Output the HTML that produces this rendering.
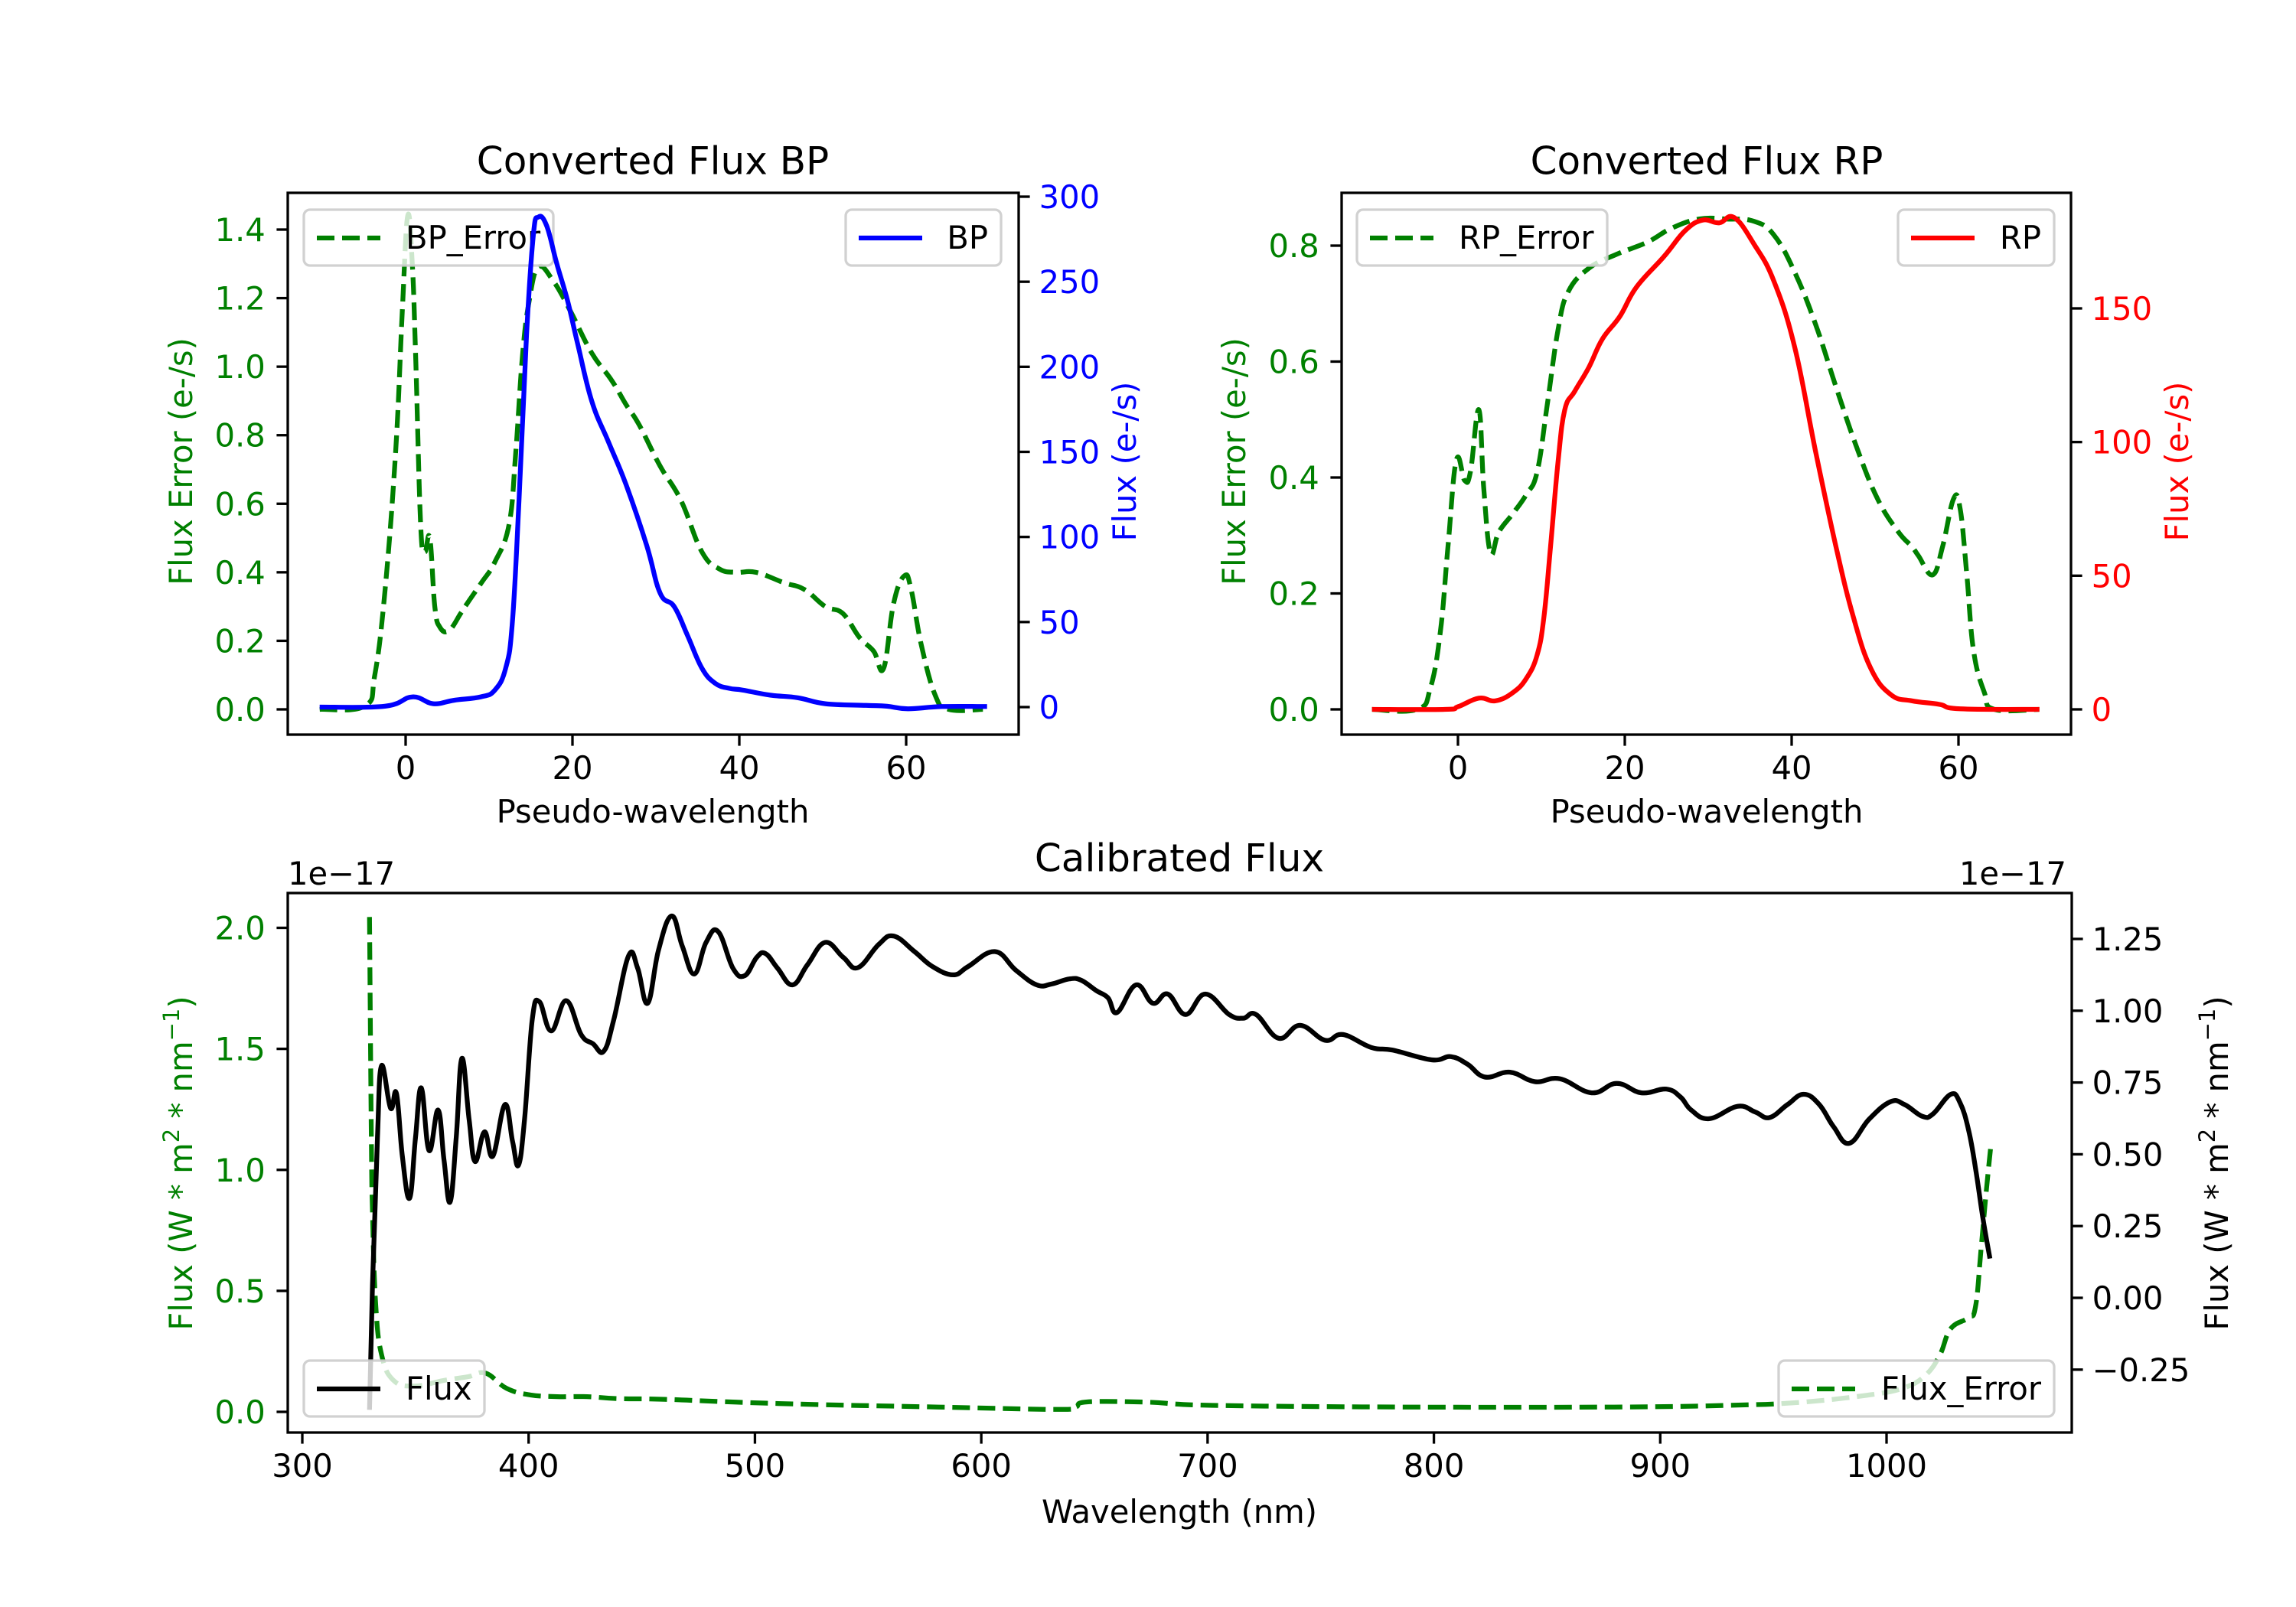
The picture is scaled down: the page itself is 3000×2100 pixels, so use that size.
<!DOCTYPE html>
<html><head><meta charset="utf-8"><style>
html,body{margin:0;padding:0;background:#fff}
svg{display:block}
text{font-family:"DejaVu Sans","Liberation Sans",sans-serif}
</style></head><body>
<svg id="fig" xmlns="http://www.w3.org/2000/svg" width="3000" height="2100" viewBox="0 0 3000 2100">
<rect width="3000" height="2100" fill="#fff"/>
</svg>
<script>
// ---- BP panel data ----
const bpX=[-10.3,-2.5,0.8,3.3,5.8,9,10.7,12,12.8,13.6,14.5,15.3,15.9,16.9,18.1,19.4,20.6,22.3,24.3,26.4,28.9,30.5,32.2,33.8,35.5,37.1,38.8,40.4,43.7,47,50.3,55.2,57.7,60.2,64.3,69.7];
const bpFlux=[0,0.5,6,2,4,6,10,23,50,122,219,277,288,283,261,239,214,180,156,131,95,67,59,42,23,14,11,10,7,5.5,2,1,0.5,-1,0.3,0.3];
const bpErrX=[-10.3,-4.9,-3.7,-2.5,-1.2,-0.4,0.25,0.8,1.2,1.8,2.3,2.9,3.5,4.1,5.2,6.6,7.4,9.1,10.7,12.4,13.2,14,14.8,15.9,17.7,19.8,22.3,24.7,26.4,28,30.5,33,35.5,37.6,39.6,42,45.3,47.8,50.3,52.4,54.4,56.1,57.3,58.5,59.8,60.6,61.8,63.5,65.1,69.2];
const bpErr=[0,0.01,0.1,0.34,0.75,1.16,1.44,1.3,1.03,0.54,0.46,0.5,0.3,0.24,0.23,0.28,0.31,0.37,0.43,0.54,0.75,1.03,1.19,1.29,1.25,1.16,1.04,0.96,0.89,0.83,0.71,0.61,0.46,0.41,0.4,0.4,0.37,0.35,0.3,0.28,0.21,0.17,0.12,0.31,0.39,0.35,0.19,0.04,0,0];
// ---- RP panel data ----
const rpX=[-10.3,-1.6,0,2.5,4.5,6.6,8.2,9.5,10.3,11.1,12,12.8,14,15.7,17.3,19.4,21.4,24.7,27.2,29.3,31.3,33.1,35.5,37.9,40.4,42.9,45.3,47.4,49.5,51.9,54.4,57.7,60.2,69.7];
const rpFlux=[0,0,1,4.2,3.2,6.3,11.6,20.4,34.5,61,92.7,112,119,128,138.5,147,158,169.4,179,183,182,184,174,160,135,96,61,34.5,15.2,5.5,3.2,1.9,0.2,0];
const rpErrX=[-10.3,-4.9,-3.3,-2.1,-1.2,-0.2,0.8,1.5,2.5,3.1,3.9,4.9,6.6,8.2,9.5,10.7,12,13.2,15.7,19,22.7,25.6,28.9,32.2,35.5,37.9,40.4,42.9,45.3,47.8,50.3,52.8,54.4,55.2,56.9,58.1,59.4,60.2,61,61.8,63.1,64.3,69.7];
const rpErr=[0,0,0.037,0.135,0.28,0.43,0.395,0.41,0.517,0.38,0.27,0.306,0.338,0.371,0.41,0.525,0.655,0.72,0.761,0.785,0.806,0.83,0.846,0.846,0.842,0.818,0.753,0.663,0.557,0.452,0.363,0.306,0.281,0.265,0.232,0.281,0.363,0.346,0.232,0.102,0.029,0,0];
// ---- Calibrated panel data (flux in 1e-17 units) ----
const calX=[329.7,331,333.2,335,339,341.6,344.2,347.4,350,352.6,356,360,362.6,365.3,368,370.5,373.7,376.3,380.5,384.2,389.5,392.9,395.5,398.2,401.6,404.7,410,416.6,423.2,428.4,433.2,437.6,444.2,448.2,452.6,457.4,463.2,467.9,473.2,478.4,483.7,490.3,495.5,500.8,504.7,510,516.6,523.2,531,539,545.5,554.7,561.3,570.5,578.4,587.6,594.2,606,615.3,624.5,631,639,644.2,650.8,656,660,668.4,675.8,682.4,690.3,699,709.5,715.7,721.4,731.4,740.9,751.9,759.8,772.3,781.7,799,807.5,814.8,822.6,833.6,844.6,855.6,869.7,880.8,891.7,902.7,909,913.7,921.6,934.2,942,948.3,956.2,963.4,970.3,976.6,983.5,992.3,1001.7,1008,1015.9,1020.6,1028.4,1032.5,1036.3,1039.5,1042.6,1045.7];
const calFlux=[-0.39,0.045,0.558,0.808,0.661,0.712,0.494,0.347,0.558,0.731,0.513,0.654,0.481,0.334,0.558,0.834,0.622,0.475,0.578,0.494,0.673,0.545,0.462,0.622,0.968,1.032,0.93,1.035,0.917,0.885,0.859,0.968,1.192,1.148,1.026,1.212,1.33,1.225,1.128,1.238,1.276,1.148,1.122,1.186,1.199,1.148,1.09,1.16,1.238,1.186,1.15,1.231,1.26,1.206,1.154,1.125,1.154,1.206,1.141,1.09,1.093,1.111,1.106,1.07,1.045,0.994,1.09,1.026,1.058,0.987,1.058,0.987,0.974,0.987,0.904,0.949,0.897,0.917,0.872,0.863,0.829,0.84,0.814,0.769,0.786,0.753,0.763,0.714,0.747,0.714,0.727,0.699,0.654,0.624,0.667,0.647,0.628,0.673,0.709,0.673,0.596,0.538,0.622,0.683,0.673,0.632,0.641,0.709,0.679,0.583,0.442,0.276,0.137];
const calErrX=[329.7,330.5,331,332.4,335,340.3,349.5,362.6,373.2,381,390.3,400.8,412.6,425.8,439,460,491.6,528.4,581,633.7,641.6,646.8,673.2,702,785,879.7,929.4,961.1,992.3,1007.9,1017.4,1023.6,1028.3,1036.1,1039.3,1041.8,1044,1046.2];
const calErr=[2.045,1.133,0.83,0.449,0.237,0.13,0.107,0.13,0.145,0.16,0.097,0.07,0.063,0.063,0.055,0.052,0.04,0.03,0.02,0.01,0.02,0.041,0.04,0.027,0.02,0.02,0.027,0.039,0.07,0.1,0.153,0.236,0.343,0.389,0.434,0.677,0.905,1.11];
// tick labels
const bpLeftTicks=[0,0.2,0.4,0.6,0.8,1.0,1.2,1.4];
const bpRightTicks=[0,50,100,150,200,250,300];
const pwTicks=[0,20,40,60];
const rpLeftTicks=[0,0.2,0.4,0.6,0.8];
const rpRightTicks=[0,50,100,150];
const calXTicks=[300,400,500,600,700,800,900,1000];
const calLeftTicks=[0,0.5,1.0,1.5,2.0];
const calRightTicks=[-0.25,0,0.25,0.5,0.75,1.0,1.25];

const NS="http://www.w3.org/2000/svg";
const svg=document.getElementById('fig');
function mk(tag,attrs,parent){const e=document.createElementNS(NS,tag);for(const k in attrs)e.setAttribute(k,attrs[k]);(parent||svg).appendChild(e);return e;}
function lin(d0,d1,r0,r1){return v=>r0+(v-d0)*(r1-r0)/(d1-d0);}
const FS=41.7, TICK=14.6, SW=3.3, LW=6.25;
function fmt(v,dec){let s=v.toFixed(dec);return s.replace('-','\u2212');}

function makeAxes(name,box){
  const g=mk('g',{});
  
  
  const cp=mk('clipPath',{id:'clip-'+name},g);
  mk('rect',{x:box.l,y:box.t,width:box.r-box.l,height:box.b-box.t},cp);
  return g;
}
function smoothPath(P){
  let d='M'+P[0][0].toFixed(1)+','+P[0][1].toFixed(1);
  const k=0.2;
  for(let i=0;i<P.length-1;i++){
    const p0=P[i-1]||P[i],p1=P[i],p2=P[i+1],p3=P[i+2]||P[i+1];
    const c1=[p1[0]+(p2[0]-p0[0])*k,p1[1]+(p2[1]-p0[1])*k];
    const c2=[p2[0]-(p3[0]-p1[0])*k,p2[1]-(p3[1]-p1[1])*k];
    d+=' C'+c1[0].toFixed(1)+','+c1[1].toFixed(1)+' '+c2[0].toFixed(1)+','+c2[1].toFixed(1)+' '+p2[0].toFixed(1)+','+p2[1].toFixed(1);
  }
  return d;
}
function drawLine(g,xs,ys,sx,sy,color,dashed,clipId,name){
  const P=xs.map((x,i)=>[sx(x),sy(ys[i])]);
  const p=mk('path',{d:smoothPath(P),fill:'none',stroke:color,'stroke-width':LW,'stroke-linejoin':'round','clip-path':'url(#'+clipId+')'},g);
  if(dashed)p.setAttribute('stroke-dasharray','23 10');
  
  
}
function frame(g,box){
  const r=mk('rect',{x:box.l,y:box.t,width:box.r-box.l,height:box.b-box.t,fill:'none',stroke:'#000','stroke-width':SW},g);
  
  
}
function xTicks(g,box,ticks,sx,dec){
  ticks.forEach(t=>{const x=sx(t);
    mk('line',{x1:x,x2:x,y1:box.b,y2:box.b+TICK,stroke:'#000','stroke-width':SW},g);
    const tx=mk('text',{x:x,y:box.b+TICK+14.6+29,'font-size':FS,'text-anchor':'middle',fill:'#000'},g);
    tx.textContent=fmt(t,dec);
    
    
  });
}
function yTicks(g,box,ticks,sy,dec,side,color){
  ticks.forEach(t=>{const y=sy(t);
    const x0=side==='l'?box.l:box.r, x1=side==='l'?box.l-TICK:box.r+TICK;
    mk('line',{x1:x0,x2:x1,y1:y,y2:y,stroke:'#000','stroke-width':SW},g);
    const tx=mk('text',{x:side==='l'?x1-14.6:x1+12,y:y+15,'font-size':FS,'text-anchor':side==='l'?'end':'start',fill:color},g);
    tx.textContent=fmt(t,dec);
    
    
  });
}
function label(g,txt,x,y,rot,color,size,name){
  const t=mk('text',{x:x,y:y,'font-size':size||FS,'text-anchor':'middle',fill:color||'#000','dominant-baseline':'middle'},g);
  if(rot)t.setAttribute('transform','rotate(-90 '+x+' '+y+')');
  t.textContent=txt;
  
  
  return t;
}
function legend(g,x,y,w,txt,color,dashed,name,textRight){
  const lg=mk('g',{},g);
  
  
  mk('rect',{x:x,y:y,width:w,height:73,rx:8,fill:'#fff','fill-opacity':0.8,stroke:'#ccc','stroke-opacity':0.9,'stroke-width':3.3},lg);
  const ln=mk('line',{x1:x+17,x2:x+100,y1:y+37,y2:y+37,stroke:color,'stroke-width':LW},lg);
  if(dashed)ln.setAttribute('stroke-dasharray','23 10');
  const t=mk('text',{x:textRight?x+w-17:x+133,y:y+51,'font-size':FS,fill:'#000','text-anchor':textRight?'end':'start'},lg);
  t.textContent=txt;
}

// ---------- BP ----------
(function(){
  const box={l:376,r:1331,t:252,b:960};
  const g=makeAxes('bp-panel',box);
  const sx=lin(0,60,530,1184), yl=lin(0,1.4,927,300), yr=lin(0,300,924,257);
  drawLine(g,bpErrX,bpErr,sx,yl,'#008000',true,'clip-bp-panel','bp-error-line');
  legend(g,397,274,326,'BP_Error','#008000',true,'bp-error-legend');
  drawLine(g,bpX,bpFlux,sx,yr,'#0000ff',false,'clip-bp-panel','bp-flux-line');
  legend(g,1105,274,203,'BP','#0000ff',false,'bp-legend',true);
  frame(g,box);
  xTicks(g,box,pwTicks,sx,0);
  yTicks(g,box,bpLeftTicks,yl,1,'l','#008000');
  yTicks(g,box,bpRightTicks,yr,0,'r','#0000ff');
  label(g,'Converted Flux BP',853,214,false,'#000',50,'bp-title');
  label(g,'Pseudo-wavelength',853,1064,false,'#000',FS,'bp-x-axis-title');
  label(g,'Flux Error (e-/s)',240,603,true,'#008000',FS,'bp-left-y-axis-title');
  label(g,'Flux (e-/s)',1473,603,true,'#0000ff',FS,'bp-right-y-axis-title');
})();
// ---------- RP ----------
(function(){
  const box={l:1753,r:2706,t:252,b:960};
  const g=makeAxes('rp-panel',box);
  const sx=lin(0,60,1905,2559), yl=lin(0,0.8,927,321), yr=lin(0,150,927,403);
  drawLine(g,rpErrX,rpErr,sx,yl,'#008000',true,'clip-rp-panel','rp-error-line');
  legend(g,1773,274,327,'RP_Error','#008000',true,'rp-error-legend');
  drawLine(g,rpX,rpFlux,sx,yr,'#ff0000',false,'clip-rp-panel','rp-flux-line');
  legend(g,2480,274,204,'RP','#ff0000',false,'rp-legend',true);
  frame(g,box);
  xTicks(g,box,pwTicks,sx,0);
  yTicks(g,box,rpLeftTicks,yl,1,'l','#008000');
  yTicks(g,box,rpRightTicks,yr,0,'r','#ff0000');
  label(g,'Converted Flux RP',2230,214,false,'#000',50,'rp-title');
  label(g,'Pseudo-wavelength',2230,1064,false,'#000',FS,'rp-x-axis-title');
  label(g,'Flux Error (e-/s)',1616,603,true,'#008000',FS,'rp-left-y-axis-title');
  label(g,'Flux (e-/s)',2848,603,true,'#ff0000',FS,'rp-right-y-axis-title');
})();
// ---------- Calibrated ----------
(function(){
  const box={l:376,r:2707,t:1167,b:1872};
  const g=makeAxes('calibrated-panel',box);
  const sx=lin(300,1000,395,2465), yl=lin(0,2.0,1845,1212.5), yr=lin(0,1.25,1696,1227);
  drawLine(g,calErrX,calErr,sx,yl,'#008000',true,'clip-calibrated-panel','flux-error-line');
  drawLine(g,calX,calFlux,sx,yr,'#000000',false,'clip-calibrated-panel','flux-line');
  legend(g,397,1778,236,'Flux','#000',false,'flux-legend');
  legend(g,2324,1778,360,'Flux_Error','#008000',true,'flux-error-legend',true);
  frame(g,box);
  xTicks(g,box,calXTicks,sx,0);
  yTicks(g,box,calLeftTicks,yl,1,'l','#008000');
  yTicks(g,box,calRightTicks,yr,2,'r','#000');
  label(g,'Calibrated Flux',1541,1125,false,'#000',50,'calibrated-title');
  label(g,'Wavelength (nm)',1541,1979,false,'#000',FS,'calibrated-x-axis-title');
  const o1=mk('text',{x:376,y:1156,'font-size':FS,fill:'#000'},g);
  o1.textContent='1e\u221217';
  
  
  const o2=mk('text',{x:2700,y:1156,'font-size':FS,fill:'#000','text-anchor':'end'},g);
  o2.textContent='1e\u221217';
  
  
  function unitLabel(x,color,name){
    const t=mk('text',{x:x,y:1520,'font-size':FS,fill:color,'text-anchor':'middle','dominant-baseline':'middle',transform:'rotate(-90 '+x+' 1520)'},g);
    
    
    t.appendChild(document.createTextNode('Flux (W * m'));
    const s1=mk('tspan',{'font-size':29,dy:-14},t); s1.textContent='2';
    const m=mk('tspan',{dy:14},t); m.textContent=' * nm';
    const s2=mk('tspan',{'font-size':29,dy:-14},t); s2.textContent='\u22121';
    const e=mk('tspan',{dy:14},t); e.textContent=')';
  }
  unitLabel(240,'#008000','calibrated-left-y-axis-title');
  unitLabel(2900,'#000','calibrated-right-y-axis-title');
})();
</script>
</body></html>
